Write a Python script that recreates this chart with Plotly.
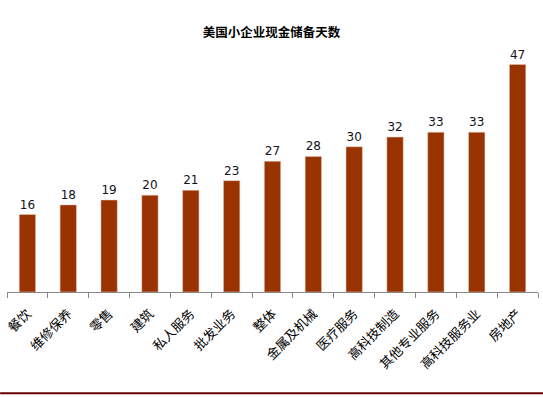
import plotly.graph_objects as go

categories = ["餐饮", "维修保养", "零售", "建筑", "私人服务", "批发业务", "整体", "金属及机械",
              "医疗服务", "高科技制造", "其他专业服务", "高科技服务业", "房地产"]
days = [16, 18, 19, 20, 21, 23, 27, 28, 30, 32, 33, 33, 47]
title_text = "美国小企业现金储备天数"

fig = go.Figure(go.Bar(
    x=categories, y=days, width=0.4,
    marker=dict(color="#993300", line=dict(color="#e8c8c0", width=0.5)),
    text=[str(v) for v in days], textposition="outside",
    textfont=dict(family="DejaVu Sans", size=12, color="#111122"),
    cliponaxis=False,
))

fig.update_layout(
    width=543, height=397,
    margin=dict(l=7, r=5, t=50, b=105, autoexpand=False),
    paper_bgcolor="white", plot_bgcolor="white",
    showlegend=False,
    title=dict(text="<b>" + title_text + "</b>", x=0.5, xanchor="center", y=0.917, yanchor="middle",
               font=dict(family="Noto Sans CJK SC", size=12.5, color="#000000")),
    xaxis=dict(tickangle=-45, tickfont=dict(family="Noto Sans CJK SC", size=13, color="#000000"),
               automargin=False, ticklabelstandoff=8,
               showline=True, linecolor="#888888", linewidth=1,
               ticks="outside", tickson="boundaries", ticklen=5, tickcolor="#888888",
               showgrid=False),
    yaxis=dict(range=[0, 50], visible=False, showgrid=False, automargin=False),
    shapes=[dict(type="line", xref="paper", yref="paper", x0=-0.013, x1=1.01, y0=-0.418, y1=-0.418,
                 line=dict(color="#6b0000", width=2))],
)

fig.write_html("out.html", config={"displayModeBar": False},
               post_script="document.body.style.margin='0';")
